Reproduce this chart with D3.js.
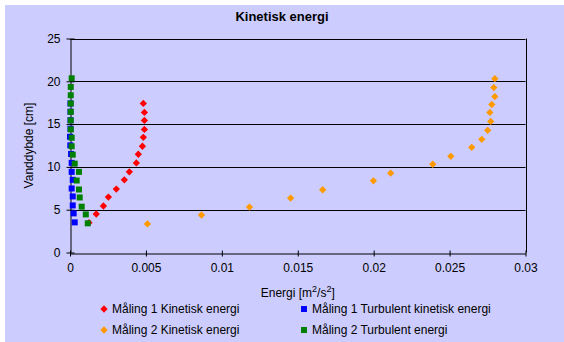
<!DOCTYPE html>
<html><head><meta charset="utf-8">
<script src="https://cdn.jsdelivr.net/npm/d3@7"></script>
<style>
html,body{margin:0;padding:0;background:#fff;}
svg{display:block;font-family:"Liberation Sans",Arial,sans-serif;}
</style></head>
<body>
<svg id="c" width="564" height="342"></svg>
<script>
// Måling 1 Kinetisk energi
const m1KinX = [0.00125,0.00173,0.00220,0.00253,0.00305,0.00358,0.00391,0.00437,0.00450,0.00477,0.00483,0.00490,0.00490,0.00490,0.00483];
const m1KinY = [3.49,4.50,5.43,6.48,7.41,8.49,9.42,10.47,11.48,12.41,13.45,14.38,15.43,16.36,17.41];
// Måling 1 Turbulent kinetisk energi
const m1TurbX = [0.00031,0.00024,0.00018,0.00018,0.00011,0.00018,0.00011,0.00011,0.00007,0.00002,0.00000,0.00003,0.00003,0.00003,0.00003];
const m1TurbY = [3.52,4.57,5.50,6.55,7.48,8.49,9.42,10.47,11.51,12.52,13.52,14.45,15.45,16.45,17.41];
// Måling 2 Kinetisk energi
const m2KinX = [0.00510,0.00866,0.01182,0.01453,0.01664,0.01998,0.02112,0.02389,0.02508,0.02646,0.02712,0.02751,0.02771,0.02765,0.02778,0.02798,0.02791,0.02798];
const m2KinY = [3.34,4.38,5.31,6.36,7.33,8.37,9.27,10.31,11.24,12.29,13.22,14.27,15.31,16.36,17.29,18.22,19.27,20.31];
// Måling 2 Turbulent energi
const m2TurbX = [0.00117,0.00104,0.00077,0.00064,0.00059,0.00044,0.00059,0.00031,0.00018,0.00011,0.00011,0.00005,0.00005,0.00005,0.00005,0.00005,0.00005,0.00011];
const m2TurbY = [3.41,4.45,5.35,6.43,7.36,8.41,9.42,10.38,11.43,12.41,13.41,14.38,15.43,16.43,17.41,18.37,19.34,20.35];

const xTicks = [0,0.005,0.01,0.015,0.02,0.025,0.03];
const xTickLabels = ["0","0.005","0.01","0.015","0.02","0.025","0.03"];
const yTicks = [0,5,10,15,20,25];

const title = "Kinetisk energi";
const yTitle = "Vanddybde [cm]";

const series = [
  {name:"Måling 1 Kinetisk energi", xs:m1KinX, ys:m1KinY, color:"#FF0000", shape:"diamond"},
  {name:"Måling 1 Turbulent kinetisk energi", xs:m1TurbX, ys:m1TurbY, color:"#0000FF", shape:"square"},
  {name:"Måling 2 Kinetisk energi", xs:m2KinX, ys:m2KinY, color:"#FF9900", shape:"diamond"},
  {name:"Måling 2 Turbulent energi", xs:m2TurbX, ys:m2TurbY, color:"#008000", shape:"square"}
];

const svg = d3.select("#c");
svg.append("rect").attr("x",5).attr("y",5).attr("width",559).attr("height",337).attr("fill","#CCCCFF");

const L=70, R=525.5, T=38.5, B=252.5;
const x = d3.scaleLinear().domain([0,0.03]).range([L,R]);
const y = d3.scaleLinear().domain([0,25]).range([B,T]);

// gridlines
svg.append("g").selectAll("line").data(yTicks.filter(d=>d>0)).join("line")
  .attr("x1",L).attr("x2",R).attr("y1",d=>Math.round(y(d))+0.5).attr("y2",d=>Math.round(y(d))+0.5)
  .attr("stroke","#000").attr("stroke-width",1);
// right border
svg.append("line").attr("x1",Math.round(R)+0.5).attr("x2",Math.round(R)+0.5).attr("y1",T).attr("y2",B).attr("stroke","#000");

const fmt = d3.scaleOrdinal().domain(xTicks).range(xTickLabels);
const xAxis = d3.axisBottom(x).tickValues(xTicks).tickFormat(d=>fmt(d)).tickSize(3).tickSizeOuter(0).tickPadding(7);
const gx = svg.append("g").attr("transform",`translate(0,${Math.round(B)+0.5})`).call(xAxis);
const yAxis = d3.axisLeft(y).tickValues(yTicks).tickSize(4).tickSizeOuter(0).tickPadding(6);
const gy = svg.append("g").attr("transform",`translate(${Math.round(L)+0.5},0)`).call(yAxis);
[gx,gy].forEach(g=>{
  g.selectAll("path,line").attr("stroke","#000").attr("stroke-width",1);
  g.selectAll("text").attr("font-size",12).attr("fill","#000").attr("font-family","Liberation Sans, Arial, sans-serif");
});
gy.selectAll(".tick line").attr("x1",-4).attr("x2",4);
gx.selectAll(".tick line").attr("y1",-3).attr("y2",3);

const diamond = d3.symbol().type(d3.symbolDiamond2).size(34);
function drawMarker(g, shape, color, cx, cy){
  if(shape==="square"){
    g.append("rect").attr("x",cx-3).attr("y",cy-3).attr("width",6).attr("height",6).attr("fill",color);
  } else {
    g.append("path").attr("d",diamond()).attr("transform",`translate(${cx},${cy})`).attr("fill",color);
  }
}

series.forEach(s=>{
  const g = svg.append("g");
  s.xs.forEach((v,i)=>drawMarker(g,s.shape,s.color,x(v),y(s.ys[i])));
});

// titles
svg.append("text").attr("x",282).attr("y",21).attr("text-anchor","middle")
  .attr("font-size",13).attr("font-weight","bold").text(title);
const xt = svg.append("text").attr("x",(L+R)/2).attr("y",297).attr("text-anchor","middle").attr("font-size",12);
xt.append("tspan").text("Energi [m");
xt.append("tspan").attr("dy",-5).attr("font-size",9).text("2");
xt.append("tspan").attr("dy",5).text("/s");
xt.append("tspan").attr("dy",-5).attr("font-size",9).text("2");
xt.append("tspan").attr("dy",5).text("]");
svg.append("text").attr("transform",`translate(33,${(T+B)/2}) rotate(-90)`).attr("text-anchor","middle")
  .attr("font-size",12).text(yTitle);

// legend
const legPos = [[104,309],[304,309],[104,330],[304,330]];
series.forEach((s,i)=>{
  const g = svg.append("g");
  const [lx,ly] = legPos[i];
  drawMarker(g,s.shape,s.color,lx,ly);
  g.append("text").attr("x",lx+8).attr("y",ly+4).attr("font-size",12).text(s.name);
});
</script>
</body></html>
